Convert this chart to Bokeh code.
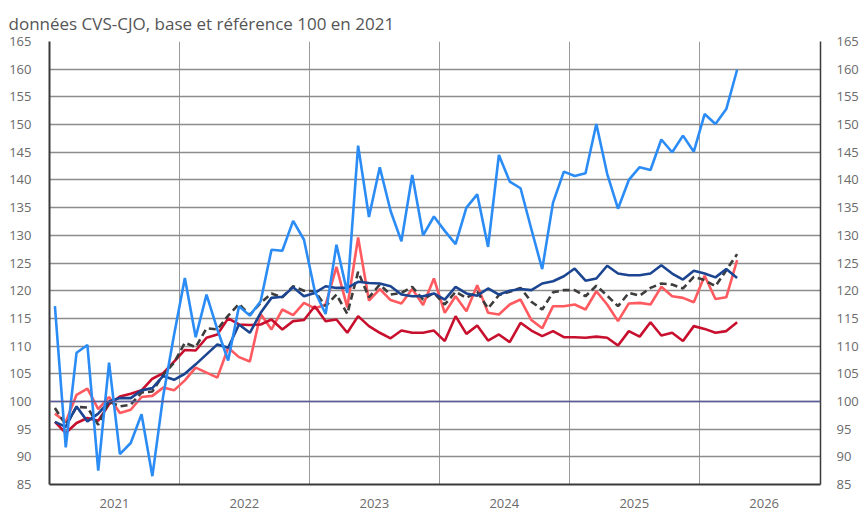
from bokeh.plotting import figure
from bokeh.models import Range1d, FixedTicker, LinearAxis, Span, Title
from bokeh.embed import file_html
from bokeh.resources import INLINE

# ---- data (monthly indices, Jan 2021 .. Apr 2026, base 100 in 2021) ----
start_year = 2021
years = ["2021", "2022", "2023", "2024", "2025", "2026"]
y_ticks = [85, 90, 95, 100, 105, 110, 115, 120, 125, 130, 135, 140, 145, 150, 155, 160, 165]
reference = 100

serie_bleu_clair = [117.2, 91.7, 108.8, 110.2, 87.5, 107.0, 90.5, 92.5, 97.7, 86.5,
                    101.0, 112.0, 122.3, 111.6, 119.3, 113.0, 107.4, 117.2, 115.5, 118.1,
                    127.4, 127.2, 132.6, 129.2, 119.9, 115.8, 128.3, 119.6, 146.2, 133.3,
                    142.3, 134.4, 128.9, 140.9, 130.0, 133.4, 130.8, 128.4, 135.0, 137.4,
                    127.9, 144.5, 139.7, 138.5, 131.1, 123.9, 135.9, 141.5, 140.7, 141.2,
                    150.1, 141.1, 134.8, 140.0, 142.3, 141.8, 147.3, 145.0, 148.0, 145.1,
                    151.9, 150.1, 152.8, 159.9]
serie_bleu_fonce = [96.3, 95.4, 99.1, 96.4, 97.8, 100.0, 100.6, 100.6, 102.0, 102.4,
                    104.6, 103.9, 105.0, 106.7, 108.5, 110.3, 109.7, 113.9, 112.4, 116.0,
                    118.7, 118.9, 120.6, 119.0, 119.6, 120.8, 120.5, 120.5, 121.6, 121.4,
                    121.3, 120.8, 119.3, 119.0, 119.0, 119.5, 118.4, 120.7, 119.5, 119.1,
                    120.4, 119.3, 120.0, 120.3, 120.1, 121.3, 121.7, 122.6, 124.0, 121.8,
                    122.2, 124.5, 123.1, 122.8, 122.8, 123.1, 124.6, 123.1, 122.0, 123.6,
                    123.1, 122.4, 123.9, 122.3]
serie_pointillee = [98.8, 95.8, 99.0, 98.9, 95.8, 100.0, 99.1, 99.4, 101.6, 101.8,
                    104.8, 107.0, 110.6, 109.8, 113.2, 113.0, 115.5, 117.6, 115.6, 117.8,
                    119.5, 118.8, 120.8, 120.0, 119.9, 117.2, 119.3, 115.8, 123.4, 118.8,
                    121.1, 119.3, 119.6, 120.7, 118.4, 119.6, 117.5, 119.8, 118.7, 119.8,
                    116.8, 119.2, 119.8, 120.5, 118.0, 116.6, 119.7, 120.1, 120.1, 119.0,
                    120.9, 119.1, 117.2, 119.6, 119.1, 120.5, 121.3, 121.1, 120.4, 122.5,
                    121.9, 120.8, 123.7, 126.6]
serie_rouge_clair = [97.8, 96.3, 101.2, 102.3, 98.6, 100.8, 97.9, 98.5, 100.8, 101.0,
                     102.5, 102.0, 103.8, 106.1, 105.2, 104.3, 109.7, 108.0, 107.2, 115.8,
                     113.0, 116.6, 115.6, 117.8, 116.8, 117.5, 124.3, 117.0, 129.6, 118.2,
                     120.3, 118.3, 117.7, 120.3, 117.4, 122.2, 116.0, 119.0, 116.3, 121.0,
                     116.0, 115.7, 117.5, 118.4, 114.7, 113.2, 117.2, 117.2, 117.5, 116.6,
                     119.9, 117.5, 114.5, 117.7, 117.8, 117.5, 120.7, 119.0, 118.7, 117.9,
                     122.7, 118.5, 118.8, 125.5]
serie_rouge_fonce = [96.3, 94.3, 96.1, 97.0, 96.5, 99.5, 100.9, 101.4, 102.0, 104.1,
                     105.1, 107.2, 109.3, 109.2, 111.5, 112.1, 115.0, 113.9, 113.8, 113.9,
                     114.8, 113.0, 114.5, 114.7, 117.2, 114.5, 114.8, 112.4, 115.4, 113.6,
                     112.4, 111.4, 112.8, 112.4, 112.4, 112.8, 110.9, 115.4, 112.2, 113.7,
                     111.0, 112.1, 110.7, 114.2, 112.8, 111.8, 112.7, 111.6, 111.6, 111.5,
                     111.7, 111.5, 110.1, 112.7, 111.7, 114.3, 111.9, 112.4, 110.9, 113.6,
                     113.1, 112.4, 112.7, 114.3]

# month positions: mid-month, measured in months since Jan 1 2021
n = len(serie_bleu_clair)
x = [i + 0.5 for i in range(n)]
year_starts = [12 * k for k in range(1, len(years))]
year_mids = [12 * k + 6 for k in range(len(years))]

FONT = "Open Sans"
LABEL_COLOR = "#6b6b6b"

p = figure(width=861, height=515, output_backend="svg", toolbar_location=None,
           x_range=Range1d(0, 71.2), y_range=Range1d(85, 165),
           y_axis_location=None, x_axis_location=None)
p.min_border_left = 49
p.min_border_right = 40
p.min_border_top = 41
p.min_border_bottom = 31
p.outline_line_color = None
p.background_fill_color = "white"
p.border_fill_color = "white"

# title
t = Title(text="données CVS-CJO, base et référence 100 en 2021", align="left",
          text_font=FONT, text_font_size="17px", text_font_style="normal",
          text_color="#555555", offset=-41, standoff=13)
p.add_layout(t, "above")

# axes
def style_y(ax, standoff):
    ax.ticker = FixedTicker(ticks=y_ticks)
    ax.major_tick_in = 0
    ax.major_tick_out = 0
    ax.minor_tick_in = 0
    ax.minor_tick_out = 0
    ax.major_label_standoff = standoff
    ax.major_label_text_font = FONT
    ax.major_label_text_font_size = "13px"
    ax.major_label_text_color = LABEL_COLOR
    ax.axis_line_color = "#3a3a3a"
    ax.axis_line_width = 2

left = LinearAxis()
style_y(left, 18)
p.add_layout(left, "left")
right = LinearAxis()
style_y(right, 16)
right.axis_line_width = 1.5
p.add_layout(right, "right")

bottom = LinearAxis()
bottom.ticker = FixedTicker(ticks=year_mids)
bottom.major_label_overrides = {m: y for m, y in zip(year_mids, years)}
bottom.major_tick_in = 0
bottom.major_tick_out = 0
bottom.minor_tick_in = 0
bottom.minor_tick_out = 0
bottom.major_label_standoff = 14
bottom.major_label_text_font = FONT
bottom.major_label_text_font_size = "13px"
bottom.major_label_text_color = LABEL_COLOR
bottom.axis_line_color = "#3a3a3a"
bottom.axis_line_width = 2
p.add_layout(bottom, "below")

# grids
p.xgrid.ticker = FixedTicker(ticks=year_starts)
p.xgrid.grid_line_color = "#9a9a9a"
p.xgrid.grid_line_width = 1
p.ygrid.ticker = FixedTicker(ticks=y_ticks)
p.ygrid.grid_line_color = "#8c8c8c"
p.ygrid.grid_line_width = 1.4

p.add_layout(Span(location=reference, dimension="width", line_color="#5b5c9c", line_width=1.5))

LW = 2.6
p.line(x, serie_rouge_clair, line_color="#ff5a5f", line_width=LW)
p.line(x, serie_rouge_fonce, line_color="#c8102e", line_width=LW)
p.line(x, serie_pointillee, line_color="#3d3d3d", line_width=LW, line_dash="7 4")
p.line(x, serie_bleu_fonce, line_color="#1c4591", line_width=LW)
p.line(x, serie_bleu_clair, line_color="#2b8cf5", line_width=LW)

open("out.html", "w").write(file_html(p, INLINE))
